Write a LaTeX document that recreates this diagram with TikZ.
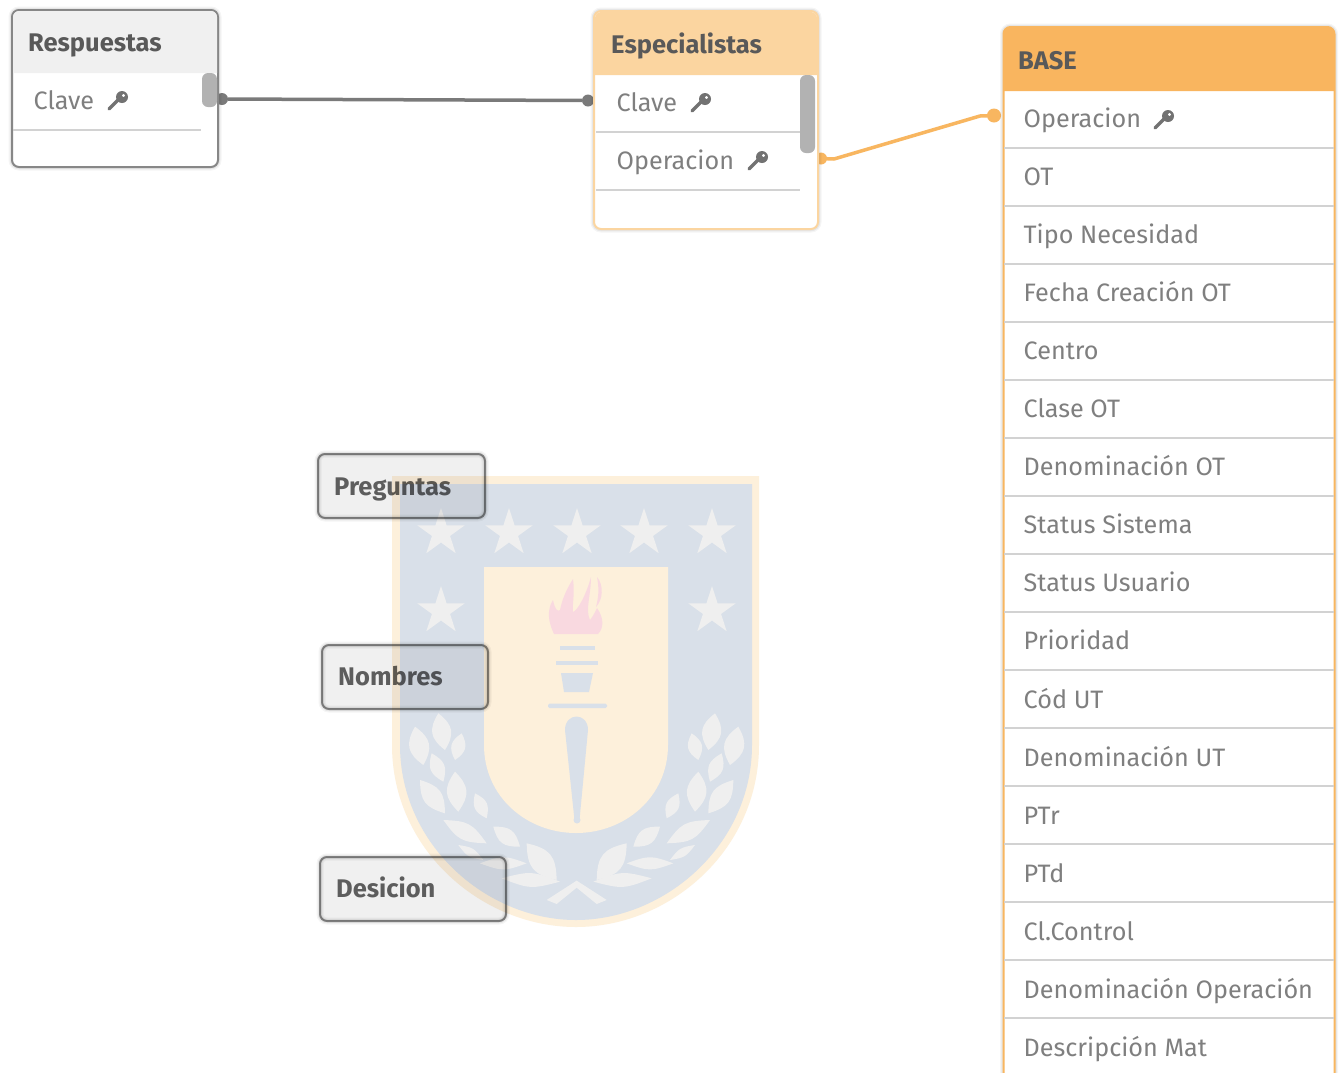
\documentclass[tikz,border=0pt]{standalone}
\usepackage{fontspec}
\setmainfont{Fira Sans}
\usetikzlibrary{calc}
\definecolor{txt}{HTML}{7F7F7F}
\definecolor{ttl}{HTML}{595959}
\definecolor{ttlsoft}{HTML}{636363}
\definecolor{grayln}{HTML}{7A7A7A}
\definecolor{graysoft}{HTML}{8C8C8C}
\definecolor{sep}{HTML}{D2D2D2}
\definecolor{hdrgray}{HTML}{F0F0F0}
\definecolor{hdrlight}{HTML}{FBD5A0}
\definecolor{hdrorange}{HTML}{F9B55F}
\definecolor{orangeln}{HTML}{F8B660}
\definecolor{scroll}{HTML}{B2B2B2}
\definecolor{wmyellow}{HTML}{FDF0DB}
\definecolor{wmblue}{HTML}{D9E0E9}
\definecolor{wmstar}{HTML}{EFEFEF}
\definecolor{wmflame}{HTML}{F9D9E0}
\tikzset{
  softshadow/.style={preaction={draw=black,draw opacity=.04,line width=7pt},
                     preaction={draw=black,draw opacity=.06,line width=4.5pt}},
  tablebox/.style={shape=rectangle,rounded corners=7pt,softshadow,fill=white,inner sep=0pt,line width=2pt},
  rowtext/.style={anchor=base west,inner sep=0pt,text=txt,font=\fontsize{25.2}{25}\selectfont},
  titletext/.style={anchor=base west,inner sep=0pt,text=ttl,font=\bfseries\fontsize{25.5}{25}\selectfont},
  rowsep/.style={draw=sep,line width=1.5pt},
  scrollbar/.style={fill=scroll,rounded corners=6pt},
  dotgray/.style={circle,fill=grayln,inner sep=0pt,minimum size=12pt},
  dotorange/.style={circle,fill=orangeln,inner sep=0pt,minimum size=14pt},
  keyicon/.pic={
    \draw[line width=3.4pt,ttl!85!white,line cap=round] (-9,8) -- (1,-2);
    \fill[ttl!85!white,even odd rule] (4,-4) circle (6pt) (5.5,-5.5) circle (1.8pt);
  }
}
\newcommand\wmstarshape[2]{\fill[wmstar]
  ({#1+25*cos(-54)},{#2-25*sin(-54)}) -- ({#1+9.5*cos(-18)},{#2-9.5*sin(-18)})
  -- ({#1+25*cos(18)},{#2-25*sin(18)}) -- ({#1+9.5*cos(54)},{#2-9.5*sin(54)})
  -- ({#1+25*cos(90)},{#2-25*sin(90)}) -- ({#1+9.5*cos(126)},{#2-9.5*sin(126)})
  -- ({#1+25*cos(162)},{#2-25*sin(162)}) -- ({#1+9.5*cos(198)},{#2-9.5*sin(198)})
  -- ({#1+25*cos(234)},{#2-25*sin(234)}) -- ({#1+9.5*cos(270)},{#2-9.5*sin(270)}) -- cycle;}
\newcommand\laurel{%
  \foreach \ax/\ay/\bx/\by/\bnd in {175/70/195/180/42,105/110/130/225/42,245/130/225/210/42,155/190/190/275/38,225/245/235/365/40,120/270/195/370/36,285/310/320/385/38,190/390/320/460/26,340/410/420/470/38,235/465/310/510/22,300/520/440/520/20,440/460/530/570/38,365/565/540/575/18}{
    \fill[wmstar] (\ax,\ay) to[bend left=\bnd,looseness=1.3] (\bx,\by) to[bend left=\bnd,looseness=1.3] (\ax,\ay);
  }
  \fill[wmstar] (500,630) -- (590,572) -- (600,585) -- (530,642) -- cycle;
}
\begin{document}
\begin{tikzpicture}[x=1pt,y=-1pt]
\useasboundingbox (0,0) rectangle (1342,1072);
\fill[white] (0,0) rectangle (1342,1072);

% Watermark
\fill[wmyellow] (392,476) -- (759,476) -- (759,745) .. controls (759,850) and (670,927) .. (576,927) .. controls (482,927) and (392,850) .. (392,745) -- cycle;
\fill[wmblue] (400,484) -- (752,484) -- (752,745) .. controls (752,845) and (665,920) .. (576,920) .. controls (487,920) and (400,845) .. (400,745) -- cycle;
\fill[wmyellow] (484,567) -- (668,567) -- (668,745) .. controls (668,797) and (625,833) .. (576,833) .. controls (527,833) and (484,797) .. (484,745) -- cycle;
\foreach \sx in {441,509,577,644,712}{\wmstarshape{\sx}{533}}
\wmstarshape{441}{611}
\wmstarshape{712}{611}
\fill[wmflame] (554,634) .. controls (545,615) and (550,605) .. (553,600) .. controls (555,610) and (558,612) .. (560,610)
   .. controls (562,600) and (566,590) .. (573,579) .. controls (575,595) and (572,605) .. (573,612)
   .. controls (578,610) and (586,595) .. (591,577) .. controls (591,595) and (585,610) .. (590,620)
   .. controls (594,615) and (596,610) .. (597,608) .. controls (604,618) and (604,628) .. (598,634) -- cycle;
\fill[wmflame] (597,577) .. controls (604,585) and (603,600) .. (596,607) .. controls (599,595) and (599,588) .. (597,577) -- cycle;
\fill[wmblue] (560,646) rectangle (595,650);
\fill[wmblue] (556,661) rectangle (598,664.5);
\fill[wmblue] (561,673) -- (593,673) -- (589,692) -- (564,692) -- cycle;
\fill[wmblue,rounded corners=1.5pt] (548,703.5) rectangle (607,708);
\fill[wmblue] (565,730) .. controls (565,712) and (588,712) .. (588,730) -- (579.5,820) -- (574.5,820) -- cycle;
\fill[wmblue] (577,820) circle (3.5pt);
\begin{scope}[shift={(380,690)},x=0.3333pt,y=-0.3333pt]\laurel\end{scope}
\begin{scope}[shift={(773.33,690)},x=-0.3333pt,y=-0.3333pt]\laurel\end{scope}

% connector end points
\node[dotgray] (dotRes) at (222,99) {};
\node[dotgray] (dotEspL) at (588,100.5) {};
\node[dotorange,minimum size=12pt] (dotEspR) at (821,158.5) {};
\node[dotorange] (dotBase) at (994,115.5) {};
\coordinate (bendEsp) at (834,159);
\coordinate (bendBase) at (980,116);
\draw[grayln,line width=3.5pt] (dotRes) -- (dotEspL);
\draw[orangeln,line width=3.5pt,line join=round] (dotEspR.center) -- (bendEsp) -- (bendBase) -- (dotBase.center);

% Respuestas
\node[tablebox,draw=grayln!90,minimum width=206pt,minimum height=157pt] (respuestas) at (115,88.5) {};
\fill[hdrgray] (13,73) [rounded corners=6pt] -- (13,11) -- (217,11) [sharp corners] -- (217,73) -- cycle;
\draw[rowsep] (13,130) -- (201,130);
\fill[scrollbar] (202,73) rectangle (217,107);
\node[titletext] (tRes) at (28,51) {Respuestas};
\node[rowtext] (rRes) at (33.5,109) {Clave};
\pic at (118,101) {keyicon};

% Especialistas
\node[tablebox,draw=hdrlight,minimum width=224pt,minimum height=218pt] (especialistas) at (706,120) {};
\fill[hdrlight] (595,75) [rounded corners=6pt] -- (595,12) -- (817,12) [sharp corners] -- (817,75) -- cycle;
\draw[rowsep] (596,132) -- (800,132);
\draw[rowsep] (596,190) -- (800,190);
\fill[scrollbar] (800,75) rectangle (815,153);
\node[titletext] (tEsp) at (611,53) {Especialistas};
\node[rowtext] (rEsp1) at (616.5,111) {Clave};
\node[rowtext] (rEsp2) at (616.5,169) {Operacion};
\pic at (701,103) {keyicon};
\pic at (758,161) {keyicon};

% BASE
\node[tablebox,draw=orangeln,minimum width=331pt,minimum height=1100pt] (base) at (1169,577) {};
\fill[hdrorange] (1003,91) [rounded corners=7pt] -- (1003,27) -- (1334.5,27) [sharp corners] -- (1334.5,91) -- cycle;
\node[titletext] (tBase) at (1018,69) {BASE};
\foreach \i/\t in {0/Operacion,1/OT,2/Tipo Necesidad,3/Fecha Creación OT,4/Centro,5/Clase OT,6/Denominación OT,7/Status Sistema,8/Status Usuario,9/Prioridad,10/Cód UT,11/Denominación UT,12/PTr,13/PTd,14/Cl.Control,15/Denominación Operación,16/Descripción Mat}{
  \node[rowtext] (b\i) at (1023.5,{127.5+58.05*\i}) {\t};
  \draw[rowsep] (1004,{148+58*\i}) -- (1334,{148+58*\i});
}
\pic at (1164,120) {keyicon};

% Free tables, multiplied over the watermark
\begin{scope}[blend mode=multiply]
\node[tablebox,draw=graysoft,fill=hdrgray,minimum width=167pt,minimum height=64pt] (preguntas) at (401.5,486) {};
\node[titletext,text=ttlsoft] (tPre) at (334,495) {Preguntas};
\node[tablebox,draw=graysoft,fill=hdrgray,minimum width=166pt,minimum height=64pt] (nombres) at (405,677) {};
\node[titletext,text=ttlsoft] (tNom) at (338,685) {Nombres};
\node[tablebox,draw=graysoft,fill=hdrgray,minimum width=186pt,minimum height=64pt] (desicion) at (413,889) {};
\node[titletext,text=ttlsoft] (tDes) at (336,897) {Desicion};
\end{scope}
\end{tikzpicture}
\end{document}
